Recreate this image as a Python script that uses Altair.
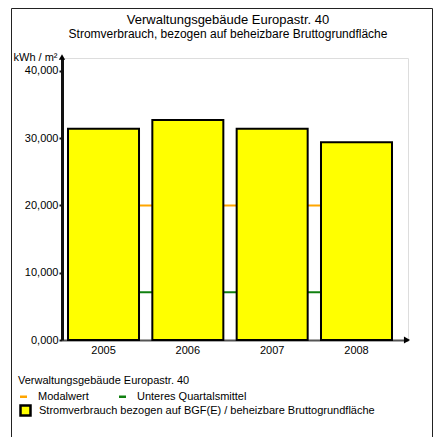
import altair as alt
import pandas as pd

years = ["2005", "2006", "2007", "2008"]
verbrauch = [31.4, 32.7, 31.4, 29.4]
modalwert = [20.0, 20.0, 20.0, 20.0]
quartil = [7.1, 7.1, 7.1, 7.1]
y_ticks = [0, 10, 20, 30, 40]

bar_name = "Stromverbrauch bezogen auf BGF(E) / beheizbare Bruttogrundfläche"
line_names = ["Modalwert", "Unteres Quartalsmittel"]
legend_title = "Verwaltungsgebäude Europastr. 40"

bars_df = pd.DataFrame({"Jahr": years, "Wert": verbrauch, "Reihe": [bar_name] * 4})
lines_df = pd.DataFrame({
    "Jahr": years * 2,
    "Wert": modalwert + quartil,
    "Reihe": [line_names[0]] * 4 + [line_names[1]] * 4,
})
one = pd.DataFrame({"a": [0]})

W, H = 346, 282
FONT = "Liberation Sans"

x_scale = alt.Scale(domain=years, paddingInner=0.158, paddingOuter=0.1305, align=0.273)
y_scale = alt.Scale(domain=[0, 41.9], nice=False, zero=True)

x_enc = alt.X(
    "Jahr:N", scale=x_scale, sort=years,
    axis=alt.Axis(title=None, labelAngle=0, ticks=False, domainColor="#555",
                  domainWidth=2, labelPadding=4, labelFontSize=11, labelColor="black",
                  labelFont=FONT),
)
y_axis = alt.Axis(
    values=y_ticks,
    labelExpr="replace(format(datum.value, '.3f'), '.', ',')",
    title="kWh / m²", titleAngle=0, titleAlign="right", titleBaseline="alphabetic",
    titleX=-5, titleY=2, titleFontWeight="normal", titleFontSize=11, titleColor="black",
    titleFont=FONT, labelFont=FONT,
    labelFontSize=11, labelColor="black", grid=False, domainColor="#111", domainWidth=3,
    tickColor="#111", tickSize=3, tickWidth=2, labelPadding=1,
)

frame_style = dict(color="#222", strokeWidth=1)
frame_left = alt.Chart(one).mark_rule(**frame_style).encode(
    x=alt.value(-50.5), y=alt.value(-49.5), y2=alt.value(430)
)
frame_top = alt.Chart(one).mark_rule(**frame_style).encode(
    x=alt.value(-50.5), x2=alt.value(370.5), y=alt.value(-49.5)
)
frame_right = alt.Chart(one).mark_rule(**frame_style).encode(
    x=alt.value(370.5), y=alt.value(-49.5), y2=alt.value(430)
)

lines = alt.Chart(lines_df).mark_line(strokeWidth=2).encode(
    x=x_enc,
    y=alt.Y("Wert:Q", scale=y_scale, axis=y_axis),
    stroke=alt.Stroke(
        "Reihe:N",
        scale=alt.Scale(domain=line_names, range=["#FFA500", "#108010"]),
        legend=alt.Legend(
            title=legend_title, orient="none", legendX=-44, legendY=317,
            direction="horizontal", titleFontSize=11, titleFontWeight="normal",
            titleColor="black", labelColor="black", titleFont=FONT, labelFont=FONT,
            labelFontSize=11, symbolType="stroke", symbolSize=49, symbolStrokeWidth=2.5,
            columnPadding=25, labelOffset=9, titlePadding=5, padding=0,
        ),
    ),
)

bars = alt.Chart(bars_df).mark_bar(stroke="black", strokeWidth=2).encode(
    x=x_enc,
    y=alt.Y("Wert:Q", scale=y_scale, axis=y_axis),
    fill=alt.Fill(
        "Reihe:N",
        scale=alt.Scale(domain=[bar_name], range=["#FFFF00"]),
        legend=alt.Legend(
            title=None, orient="none", legendX=-43, legendY=346,
            symbolType="square", symbolSize=100, symbolStrokeColor="black",
            symbolStrokeWidth=2.5, labelFontSize=11, labelColor="black", labelFont=FONT,
            labelOffset=7, padding=0, labelLimit=400,
        ),
    ),
)

arrow_x = alt.Chart(one).mark_point(shape="triangle-right", filled=True, color="black",
                                    size=50, opacity=1).encode(
    x=alt.value(W - 1), y=alt.value(H)
)
arrow_y = alt.Chart(one).mark_point(shape="triangle-up", filled=True, color="black",
                                    size=40, opacity=1).encode(
    x=alt.value(0), y=alt.value(-1)
)

chart = alt.layer(frame_left, frame_top, frame_right, lines, bars, arrow_x, arrow_y).resolve_scale(
    stroke="independent", fill="independent"
).properties(
    width=W, height=H,
    autosize=alt.AutoSizeParams(type="none"),
    padding={"left": 54, "top": 50, "right": 25, "bottom": 97},
    title=alt.TitleParams(
        text="Verwaltungsgebäude Europastr. 40",
        subtitle="Stromverbrauch, bezogen auf beheizbare Bruttogrundfläche",
        fontSize=13, subtitleFontSize=12, fontWeight="normal", anchor="middle",
        frame="group", dx=-7, offset=-32, subtitlePadding=2, color="black",
        subtitleColor="black", font=FONT, subtitleFont=FONT,
    ),
).configure_view(stroke=None).configure(font=FONT)

chart.save("out.html", embed_options={"renderer": "svg", "actions": False})
